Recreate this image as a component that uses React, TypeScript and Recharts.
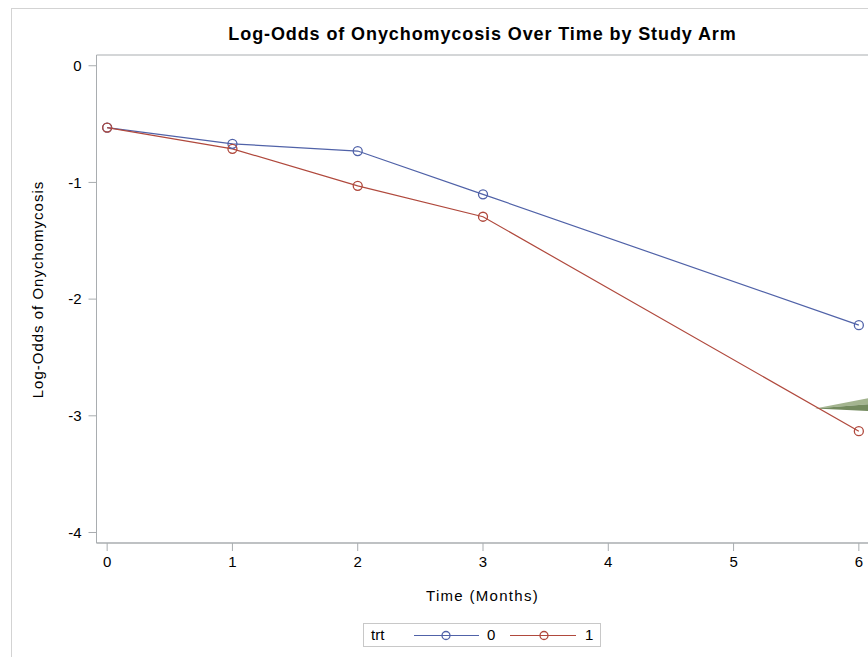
import React from 'react';
import { ComposedChart, Line, Area, XAxis, YAxis, ReferenceArea } from 'recharts';

const months = [0, 1, 2, 3, 6];
const trt0 = [-0.53, -0.669, -0.731, -1.102, -2.223];
const trt1 = [-0.53, -0.712, -1.029, -1.294, -3.132];
const xTicks = [0, 1, 2, 3, 4, 5, 6];
const yTicks = [0, -1, -2, -3, -4];
const xDomain = [-0.085, 6.085];
const yDomain = [-4.09, 0.092];

// annotation wedge (arrow-like shape), in data coordinates
const wedgeX = [5.65, 6.09];
const wedgeTop = [-2.937, -2.845];
const wedgeMid = [-2.937, -2.90];
const wedgeBottom = [-2.937, -2.96];

const data = months.map((m, i) => ({ m, a: trt0[i], b: trt1[i] }));
const wedgeLight = wedgeX.map((x, i) => ({ m: x, r: [wedgeMid[i], wedgeTop[i]] }));
const wedgeDark = wedgeX.map((x, i) => ({ m: x, r: [wedgeBottom[i], wedgeMid[i]] }));

const BLUE = '#5062a8';
const RED = '#b0493d';
const AXIS = '#a9adb0';
const FONT = '"Liberation Sans", Arial, sans-serif';

const dot = (color: string) => ({ r: 4.5, stroke: color, strokeWidth: 1.3, fill: 'none' });

export default function App() {
  return (
    <div style={{ position: 'relative', width: 868, height: 657, overflow: 'hidden', background: '#fff', fontFamily: FONT }}>
      <style>{'html,body{margin:0;padding:0;overflow:hidden;background:#fff}'}</style>
      <div style={{ position: 'absolute', left: 11, top: 8, width: 1000, height: 1000, border: '1px solid #d3d3d3', boxSizing: 'border-box' }} />
      <div style={{ position: 'absolute', left: 0, top: 24, width: 965, textAlign: 'center', fontSize: 18, fontWeight: 'bold', color: '#000', letterSpacing: 0.9 }}>
        Log-Odds of Onychomycosis Over Time by Study Arm
      </div>
      <div style={{ position: 'absolute', left: 0, top: 0 }}>
        <ComposedChart width={960} height={657} margin={{ top: 55, right: 90.5, bottom: 84, left: 0 }}>
          <XAxis
            dataKey="m"
            type="number"
            domain={xDomain}
            ticks={xTicks}
            allowDataOverflow
            height={30}
            tickSize={8}
            tickMargin={5}
            stroke={AXIS}
            tick={{ fill: '#000', fontSize: 15, fontFamily: FONT }}
          />
          <YAxis
            type="number"
            domain={yDomain}
            ticks={yTicks}
            allowDataOverflow
            width={96.5}
            tickSize={8}
            tickMargin={7}
            stroke={AXIS}
            tick={{ fill: '#000', fontSize: 15, fontFamily: FONT }}
          />
          <ReferenceArea x1={xDomain[0]} x2={xDomain[1]} y1={yDomain[0]} y2={yDomain[1]} fill="none" stroke={AXIS} strokeWidth={1} ifOverflow="visible" />
          <Line data={data} dataKey="a" stroke={BLUE} strokeWidth={1.2} dot={dot(BLUE)} activeDot={false} isAnimationActive={false} />
          <Line data={data} dataKey="b" stroke={RED} strokeWidth={1.2} dot={dot(RED)} activeDot={false} isAnimationActive={false} />
          <Area data={wedgeLight} dataKey="r" type="linear" stroke="none" fill="#a3b48f" fillOpacity={1} isAnimationActive={false} />
          <Area data={wedgeDark} dataKey="r" type="linear" stroke="none" fill="#738a5e" fillOpacity={1} isAnimationActive={false} />
        </ComposedChart>
      </div>
      <div style={{ position: 'absolute', left: 0, top: 587, width: 965, textAlign: 'center', fontSize: 15, color: '#000', letterSpacing: 1.3 }}>
        Time (Months)
      </div>
      <div style={{ position: 'absolute', left: 37, top: 290, width: 0, height: 0 }}>
        <div style={{ position: 'absolute', left: -150, top: -9, width: 300, textAlign: 'center', fontSize: 15, color: '#000', transform: 'rotate(-90deg)', whiteSpace: 'nowrap', letterSpacing: 1 }}>
          Log-Odds of Onychomycosis
        </div>
      </div>
      <div style={{ position: 'absolute', left: 363, top: 623, width: 238, height: 24, border: '1px solid #c8c8c8', boxSizing: 'border-box', fontSize: 15, color: '#000' }}>
        <span style={{ position: 'absolute', left: 7, top: 2 }}>trt</span>
        <svg style={{ position: 'absolute', left: 0, top: 0 }} width={238} height={24}>
          <line x1={50} y1={11.5} x2={115} y2={11.5} stroke={BLUE} strokeWidth={1.2} />
          <circle cx={82} cy={11.5} r={4} stroke={BLUE} strokeWidth={1.3} fill="none" />
          <line x1={146} y1={11.5} x2={212} y2={11.5} stroke={RED} strokeWidth={1.2} />
          <circle cx={180} cy={11.5} r={4} stroke={RED} strokeWidth={1.3} fill="none" />
        </svg>
        <span style={{ position: 'absolute', left: 123, top: 2 }}>0</span>
        <span style={{ position: 'absolute', left: 221, top: 2 }}>1</span>
      </div>
    </div>
  );
}
